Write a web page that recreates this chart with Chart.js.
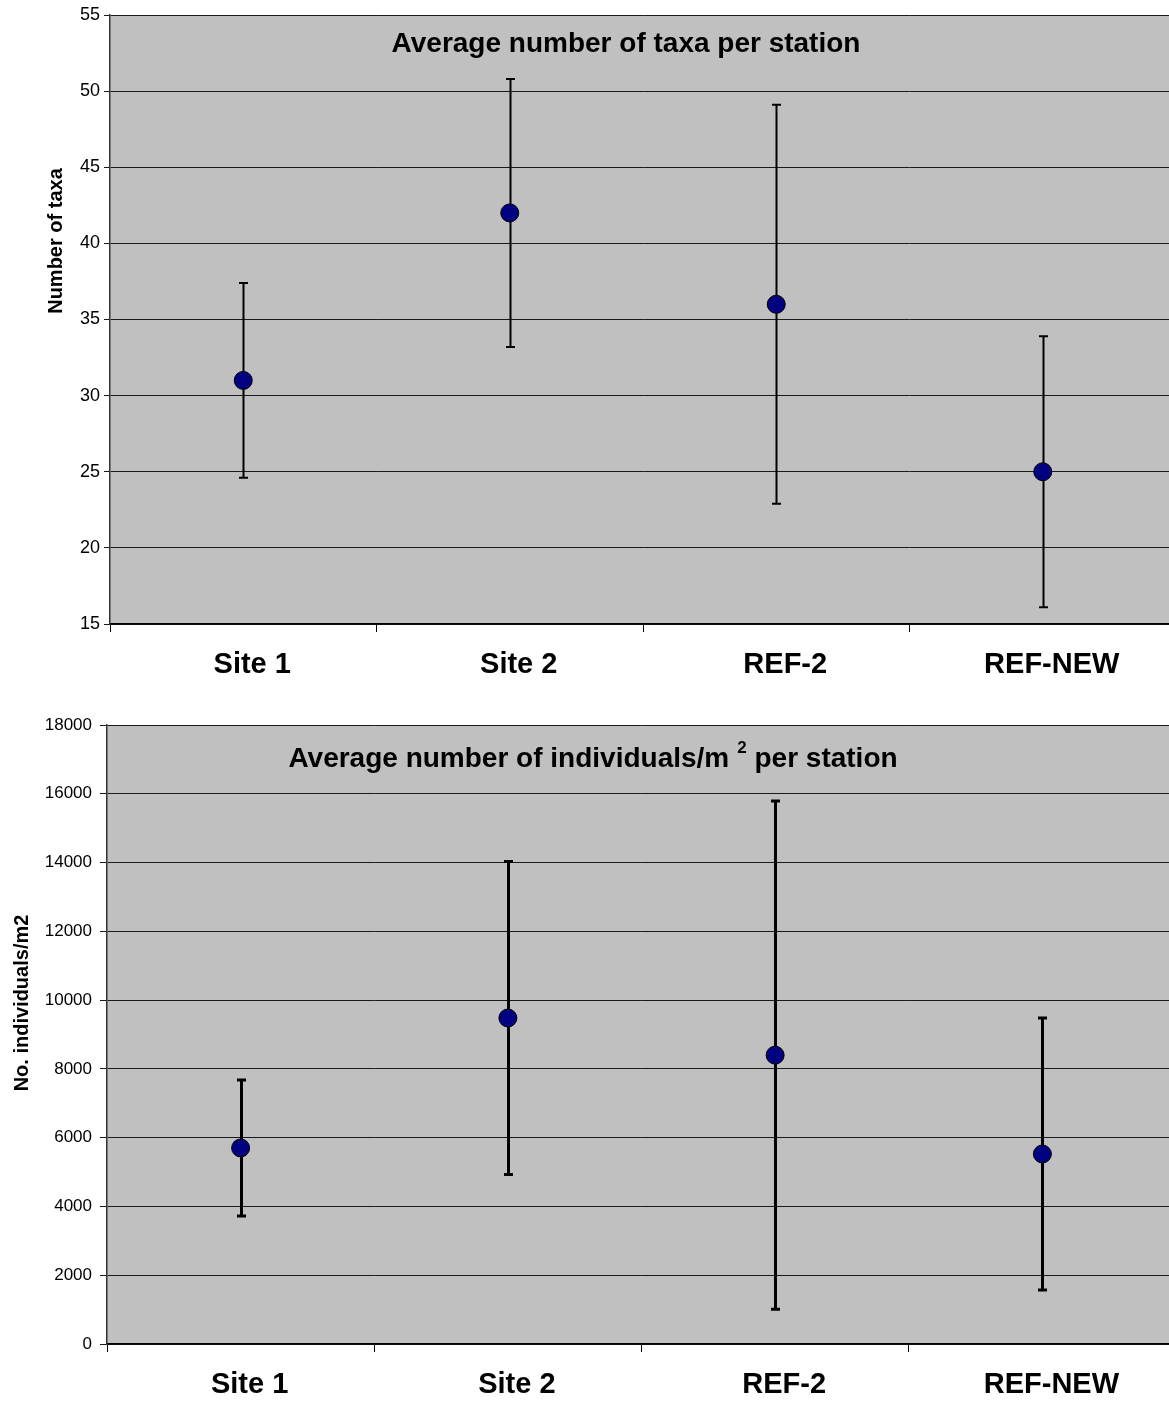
<!DOCTYPE html>
<html>
<head>
<meta charset="utf-8">
<title>Average per station</title>
<script src="https://cdn.jsdelivr.net/npm/chart.js@4.4.0/dist/chart.umd.min.js"></script>
<style>
  html, body { margin: 0; padding: 0; background: #fff; overflow: hidden; }
  #wrap { width: 1169px; height: 1401px; overflow: hidden; position: relative; }
  .box { width: 1176px; }
  canvas { display: block; }
</style>
</head>
<body>
<div id="wrap">
  <div class="box" style="height:700px"><canvas id="taxaChart" width="1176" height="700"></canvas></div>
  <div class="box" style="height:701px"><canvas id="indivChart" width="1176" height="701"></canvas></div>
</div>
<script>
var stations = ['Site 1', 'Site 2', 'REF-2', 'REF-NEW'];

// mean number of taxa and its +/- spread
var taxaMean = [31, 42, 36, 25];
var taxaErr = [6.4, 8.8, 13.1, 8.9];

// mean density (individuals/m2) and its +/- spread
var indivMean = [5700, 9480, 8400, 5525];
var indivErr = [1980, 4550, 7390, 3955];

var FONT = "'Liberation Sans', Arial, sans-serif";

// grey plot area
var plotBackground = {
  id: 'plotBackground',
  beforeDraw: function(chart) {
    var a = chart.chartArea, ctx = chart.ctx;
    ctx.save();
    ctx.fillStyle = '#c0c0c0';
    ctx.fillRect(a.left, a.top, a.right - a.left, a.bottom - a.top);
    ctx.restore();
  }
};

// vertical error bars with flat caps, drawn before the points so the dots sit on top
var errorBars = {
  id: 'errorBars',
  beforeDatasetsDraw: function(chart, args, opts) {
    var ctx = chart.ctx, x = chart.scales.x, y = chart.scales.y;
    var means = chart.data.datasets[0].data;
    ctx.save();
    ctx.strokeStyle = '#000';
    ctx.lineWidth = opts.width;
    means.forEach(function(m, i) {
      var px = Math.round(x.getPixelForValue(i)) + 0.5;
      var top = y.getPixelForValue(m + opts.err[i]);
      var bot = y.getPixelForValue(m - opts.err[i]);
      ctx.beginPath();
      ctx.moveTo(px, top); ctx.lineTo(px, bot);
      ctx.moveTo(px - opts.cap, top); ctx.lineTo(px + opts.cap, top);
      ctx.moveTo(px - opts.cap, bot); ctx.lineTo(px + opts.cap, bot);
      ctx.stroke();
    });
    ctx.restore();
  }
};

// title inside the plot and the rotated y axis caption
var captions = {
  id: 'captions',
  afterDraw: function(chart, args, opts) {
    var ctx = chart.ctx;
    ctx.save();
    ctx.fillStyle = '#000';
    ctx.textBaseline = 'alphabetic';
    ctx.textAlign = 'left';
    // title may be made of parts (for the superscript)
    var total = 0;
    opts.title.forEach(function(p) {
      ctx.font = 'bold ' + p.size + 'px ' + FONT;
      p.w = ctx.measureText(p.text).width + (p.gap || 0);
      total += p.w;
    });
    var tx = opts.titleX - total / 2;
    opts.title.forEach(function(p) {
      ctx.font = 'bold ' + p.size + 'px ' + FONT;
      ctx.fillText(p.text, tx, opts.titleY - (p.rise || 0));
      tx += p.w;
    });
    // y axis caption
    ctx.translate(opts.yTitleX, opts.yTitleY);
    ctx.rotate(-Math.PI / 2);
    ctx.textAlign = 'center';
    ctx.textBaseline = 'middle';
    ctx.font = 'bold 20px ' + FONT;
    ctx.fillText(opts.yTitle, 0, 0);
    ctx.restore();
  }
};

function makeChart(id, means, errs, s) {
  return new Chart(document.getElementById(id), {
    type: 'line',
    data: {
      labels: stations,
      datasets: [{
        data: means,
        showLine: false,
        pointRadius: 9,
        pointHoverRadius: 9,
        pointBackgroundColor: '#000080',
        pointBorderColor: '#000',
        pointBorderWidth: 1
      }]
    },
    options: {
      responsive: false,
      animation: false,
      // no extra room for the dots, the plot runs to the canvas edge
      layout: { autoPadding: false, padding: { top: s.top, left: 0, right: 0, bottom: 0 } },
      plugins: {
        legend: { display: false },
        tooltip: { enabled: false },
        errorBars: { err: errs, width: s.barWidth, cap: 4.5 },
        captions: s.captions
      },
      scales: {
        x: {
          type: 'category',
          offset: true,
          grid: { offset: true, drawOnChartArea: false, drawTicks: true, tickLength: 8, color: '#000' },
          border: { color: '#000', width: 1.5 },
          ticks: {
            color: '#000',
            padding: 16,
            labelOffset: 9,
            font: { family: FONT, size: 29, weight: 'bold' }
          },
          afterFit: function(scale) { scale.height = s.xHeight; }
        },
        y: {
          min: s.min,
          max: s.max,
          grid: { color: '#1a1a1a', lineWidth: 1, tickLength: s.tickLen },
          border: { color: '#333', width: 1.5 },
          ticks: {
            stepSize: s.step,
            color: '#000',
            padding: s.tickPad,
            font: { family: FONT, size: s.tickSize },
            callback: function(v) { return String(v); }
          },
          afterFit: function(scale) { scale.width = s.yWidth; }
        }
      }
    },
    plugins: [plotBackground, errorBars, captions]
  });
}

var taxaChart = makeChart('taxaChart', taxaMean, taxaErr, {
  top: 15, xHeight: 76, yWidth: 110, min: 15, max: 55, step: 5,
  tickLen: 6, tickPad: 4, tickSize: 18, barWidth: 2,
  captions: {
    title: [{ text: 'Average number of taxa per station', size: 28 }],
    titleX: 626, titleY: 52,
    yTitle: 'Number of taxa', yTitleX: 56, yTitleY: 241
  }
});

var indivChart = makeChart('indivChart', indivMean, indivErr, {
  top: 25, xHeight: 57, yWidth: 107, min: 0, max: 18000, step: 2000,
  tickLen: 7, tickPad: 8, tickSize: 17, barWidth: 3,
  captions: {
    title: [
      { text: 'Average number of individuals/m', size: 28, gap: 8 },
      { text: '2', size: 17, rise: 14, gap: 0 },
      { text: ' per station', size: 28 }
    ],
    titleX: 593, titleY: 67,
    yTitle: 'No. individuals/m2', yTitleX: 22, yTitleY: 303
  }
});
</script>
</body>
</html>
